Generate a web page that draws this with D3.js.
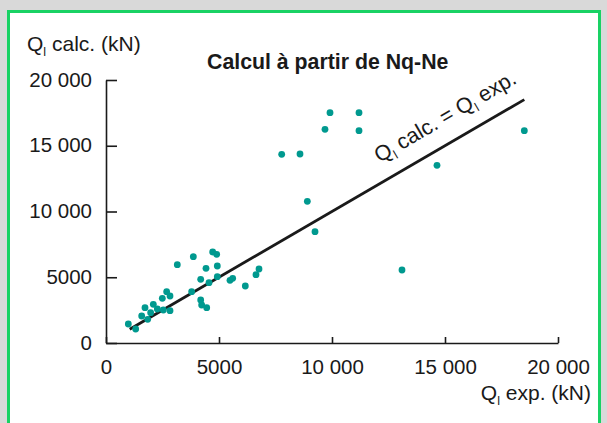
<!DOCTYPE html>
<html>
<head>
<meta charset="utf-8">
<script src="https://cdn.jsdelivr.net/npm/d3@7"></script>
<style>
  html, body { margin: 0; padding: 0; background: #d9d9d9; }
  svg { display: block; }
</style>
</head>
<body>
<div class="svg-container"></div>
<script>
// Ql exp. (kN) vs Ql calc. (kN)
let expValues = [988, 1313, 1579, 1844, 1726, 1976, 2094, 2271, 2537, 2492, 2684, 2832, 2832, 3155,
    3790, 3864, 4190, 4190, 4233, 4456, 4425, 4558, 4720, 4897, 4925, 4925, 5487, 5605, 6164, 6637,
    6770, 7774, 8584, 8909, 9248, 9690, 9912, 11195, 11195, 13097, 14646, 18510];
let calcValues = [1445, 1065, 2053, 1802, 2684, 2304, 2940, 2586, 2510, 3397, 3901, 3574, 2456, 5954,
    3901, 6563, 4844, 3270, 2890, 2684, 5680, 4586, 6920, 6745, 5855, 5042, 4768, 4920, 4335, 5194,
    5627, 14350, 14373, 10776, 8466, 16250, 17513, 17513, 16145, 5551, 13513, 16145];
let lineEnds = [1050, 18510];
let xTicks = [0, 5000, 10000, 15000, 20000];
let xTickLabels = ["0", "5000", "10 000", "15 000", "20 000"];
let yTicks = [0, 5000, 10000, 15000, 20000];
let yTickLabels = ["0", "5000", "10 000", "15 000", "20 000"];

let width = 607;
let height = 423;
let font = "'Liberation Sans', Arial, Helvetica, sans-serif";
let ink = "#1a1a1a";

let svg = d3.select(".svg-container")
    .append("svg")
    .attr("width", width)
    .attr("height", height);

// grey page + green frame
svg.append("rect").attr("width", width).attr("height", height).attr("fill", "#d9d9d9");
svg.append("rect")
    .attr("x", 8.5).attr("y", 11.5)
    .attr("width", 591).attr("height", 440)
    .attr("fill", "white")
    .attr("stroke", "#19d264")
    .attr("stroke-width", 3);

let x = d3.scaleLinear().domain([0, 20000]).range([106, 558]);
let y = d3.scaleLinear().domain([0, 20000]).range([343, 80]);

let xAxis = svg.append("g")
    .attr("transform", "translate(0," + y(0) + ")")
    .call(d3.axisBottom(x).tickValues(xTicks)
        .tickFormat(function (d, i) { return xTickLabels[i]; })
        .tickSizeInner(-6).tickSizeOuter(0).tickPadding(16));

let yAxis = svg.append("g")
    .attr("transform", "translate(" + x(0) + ",0)")
    .call(d3.axisLeft(y).tickValues(yTicks)
        .tickFormat(function (d, i) { return yTickLabels[i]; })
        .tickSizeInner(-11).tickSizeOuter(0).tickPadding(14));

[xAxis, yAxis].forEach(function (g) {
    g.attr("font-family", font).attr("font-size", 20.5);
    g.select(".domain").attr("stroke", ink).attr("stroke-width", 1.6);
    g.selectAll(".tick line").attr("stroke", ink).attr("stroke-width", 1.6);
    g.selectAll(".tick text").attr("fill", ink);
});
yAxis.selectAll(".tick text").attr("dy", "0.3em");

// Ql calc. = Ql exp.
svg.append("line")
    .attr("x1", x(lineEnds[0])).attr("y1", y(lineEnds[0]))
    .attr("x2", x(lineEnds[1])).attr("y2", y(lineEnds[1]))
    .attr("stroke", ink)
    .attr("stroke-width", 2.8);

svg.selectAll("circle.pt")
    .data(expValues)
    .enter()
    .append("circle")
    .attr("class", "pt")
    .attr("cx", function (d) { return x(d); })
    .attr("cy", function (d, i) { return y(calcValues[i]); })
    .attr("r", 3.4)
    .attr("fill", "#00998f");

// helper for "Q" with a small "l" below
function qLabel(sel, rest) {
    sel.append("tspan").text("Q");
    sel.append("tspan").attr("font-size", 12.5).attr("dy", 5).text("l");
    sel.append("tspan").attr("dy", -5).text(rest);
}

let angle = Math.atan2(y(0) - y(1000), x(1000) - x(0)) * 180 / Math.PI;
let v0 = 12500;
let off = 18;
let rad = angle * Math.PI / 180;
let lx = x(v0) - off * Math.sin(rad);
let ly = y(v0) - off * Math.cos(rad);
svg.append("text")
    .attr("transform", "translate(" + lx + "," + ly + ") rotate(" + (-angle) + ")")
    .attr("font-family", font).attr("font-size", 21.5).attr("fill", ink)
    .call(function (t) {
        qLabel(t, " calc. = Q");
        t.append("tspan").attr("font-size", 12.5).attr("dy", 5).text("l");
        t.append("tspan").attr("dy", -5).text(" exp.");
    });

svg.append("text")
    .attr("x", 27).attr("y", 51)
    .attr("font-family", font).attr("font-size", 21).attr("fill", ink)
    .call(qLabel, " calc. (kN)");

svg.append("text")
    .attr("x", 591).attr("y", 400)
    .attr("text-anchor", "end")
    .attr("font-family", font).attr("font-size", 21).attr("fill", ink)
    .call(qLabel, " exp. (kN)");

svg.append("text")
    .attr("x", 207).attr("y", 69)
    .attr("font-family", font).attr("font-size", 21.3).attr("font-weight", "bold").attr("fill", ink)
    .text("Calcul à partir de Nq-Ne");
</script>
</body>
</html>
